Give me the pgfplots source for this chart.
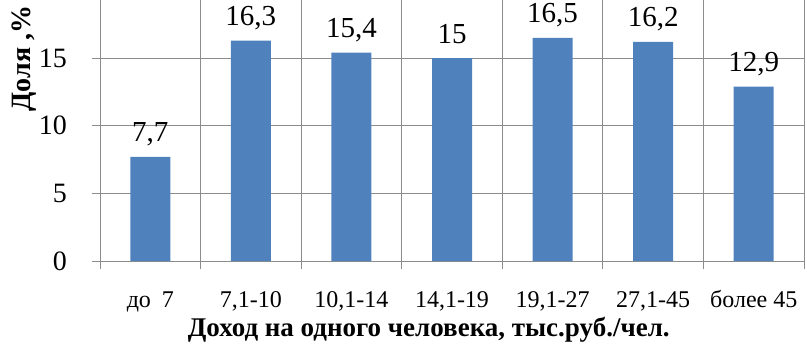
\documentclass[border=0pt]{standalone}
\usepackage{pgfplots}
\pgfplotsset{compat=1.18}
\usepackage{fontspec}
\setmainfont{Liberation Serif}
\definecolor{barblue}{HTML}{4F81BD}
\definecolor{gridgray}{HTML}{8C8C8C}
\begin{document}
\begin{tikzpicture}
\begin{axis}[
  scale only axis,
  width=704pt, height=261pt,
  xmin=-0.5, xmax=6.5,
  ymin=0, ymax=19.3,
  axis x line*=bottom,
  axis y line*=left,
  axis line style={gridgray, line width=0.8pt},
  ybar,
  bar width=40pt,
  xtick={0,1,2,3,4,5,6},
  xticklabels={до\hspace{0.45em}7, {7,1-10}, {10,1-14}, {14,1-19}, {19,1-27}, {27,1-45}, более 45},
  minor xtick={-0.5,0.5,1.5,2.5,3.5,4.5,5.5,6.5},
  major x tick style={draw=none},
  minor tick length=8pt,
  minor x tick style={gridgray, line width=0.8pt},
  xminorgrids=true,
  ytick={0,5,10,15},
  ymajorgrids=true,
  major grid style={gridgray, line width=0.8pt},
  minor grid style={gridgray, line width=0.8pt},
  y tick style={gridgray, line width=0.8pt},
  major tick length=8pt,
  tick align=outside,
  /pgf/number format/assume math mode=true,
  /pgf/number format/use comma,
  yticklabel style={font=\fontsize{28}{30}\selectfont, anchor=east, inner sep=0pt, xshift=-25pt},
  xticklabel style={font=\fontsize{24}{26}\selectfont, anchor=base, inner sep=0pt, yshift=-38pt},
  xlabel={\textbf{Доход на одного человека, тыс.руб./чел.}},
  xlabel style={font=\fontsize{27}{30}\selectfont, at={(axis description cs:0.467,-0.291)}, anchor=base, inner sep=0pt},
  ylabel={\textbf{Доля ,\%}},
  ylabel style={font=\fontsize{28}{30}\selectfont, at={(axis description cs:-0.09,0.775)}, anchor=south, inner sep=0pt},
  nodes near coords,
  every node near coord/.append style={font=\fontsize{29}{30}\selectfont, black, anchor=base, inner sep=0pt, yshift=15pt},
  clip=false,
]
\addplot[fill=barblue, draw=none] coordinates {
  (0,7.7) (1,16.3) (2,15.4) (3,15) (4,16.5) (5,16.2) (6,12.9)
};
\end{axis}
\pgfresetboundingbox
\path ([xshift=-100pt,yshift=-82pt]current axis.south west) rectangle ([xshift=3pt]current axis.north east);
\end{tikzpicture}
\end{document}
